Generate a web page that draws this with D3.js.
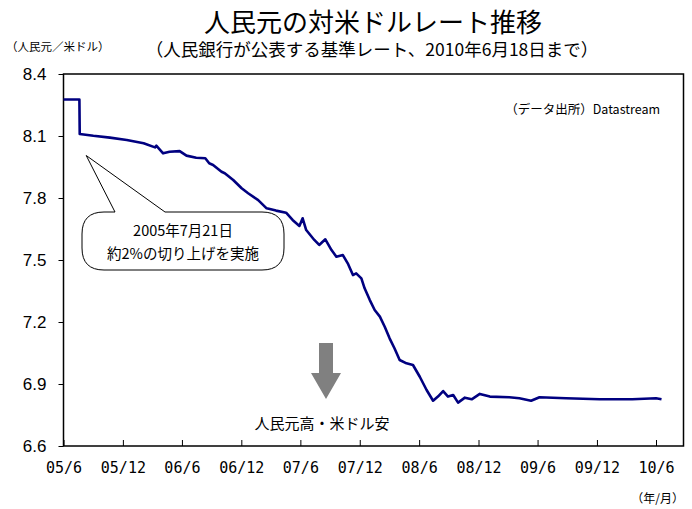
<!DOCTYPE html>
<html>
<head>
<meta charset="utf-8">
<script src="https://cdn.jsdelivr.net/npm/d3@7"></script>
<style>
  body { margin: 0; background: #fff; }
  text { font-family: "Noto Sans CJK JP", "Liberation Sans", sans-serif; fill: #000; }
</style>
</head>
<body>
<div id="chart"></div>
<script>
// CNY per USD, PBoC central parity
const dates = ["2005-06-01", "2005-07-20", "2005-07-21", "2005-09-01", "2005-10-22", "2005-12-13",
  "2006-02-03", "2006-03-10", "2006-03-14", "2006-04-04", "2006-04-24", "2006-05-25", "2006-06-15",
  "2006-07-15", "2006-08-12", "2006-08-24", "2006-09-05", "2006-10-01", "2006-10-11", "2006-11-06",
  "2006-12-02", "2006-12-22", "2007-01-22", "2007-02-17", "2007-03-18", "2007-04-18", "2007-05-08",
  "2007-05-29", "2007-06-08", "2007-06-19", "2007-07-14", "2007-07-29", "2007-08-17", "2007-09-05",
  "2007-09-20", "2007-10-10", "2007-10-25", "2007-11-10", "2007-11-20", "2007-12-06", "2007-12-16",
  "2008-01-01", "2008-01-16", "2008-02-01", "2008-02-16", "2008-03-02", "2008-03-17", "2008-04-02",
  "2008-04-23", "2008-05-13", "2008-06-03", "2008-06-24", "2008-07-14", "2008-07-29", "2008-08-14",
  "2008-08-29", "2008-09-14", "2008-09-29", "2008-10-20", "2008-11-10", "2008-12-05", "2009-01-05",
  "2009-03-06", "2009-04-06", "2009-05-12", "2009-06-07", "2009-08-28", "2009-12-09", "2010-03-20",
  "2010-06-01", "2010-06-18"];
const rates = [8.2765, 8.2765, 8.110, 8.101, 8.092, 8.081,
  8.065, 8.045, 8.053, 8.016, 8.024, 8.027, 8.005,
  7.995, 7.992, 7.968, 7.960, 7.927, 7.920, 7.887,
  7.847, 7.823, 7.790, 7.750, 7.739, 7.729, 7.694,
  7.665, 7.702, 7.645, 7.597, 7.573, 7.600, 7.548,
  7.516, 7.524, 7.484, 7.427, 7.435, 7.411, 7.363,
  7.306, 7.258, 7.226, 7.177, 7.121, 7.073, 7.016,
  7.000, 6.992, 6.935, 6.871, 6.819, 6.839, 6.866,
  6.839, 6.847, 6.810, 6.834, 6.826, 6.852, 6.839,
  6.836, 6.831, 6.819, 6.836, 6.831, 6.826, 6.826,
  6.831, 6.826];

const yTicks = [6.6, 6.9, 7.2, 7.5, 7.8, 8.1, 8.4];
const xTickDates = ["2005-06-01", "2005-12-01", "2006-06-01", "2006-12-01", "2007-06-01", "2007-12-01",
  "2008-06-01", "2008-12-01", "2009-06-01", "2009-12-01", "2010-06-01"];
const xTickLabels = ["05/6", "05/12", "06/6", "06/12", "07/6", "07/12", "08/6", "08/12", "09/6", "09/12", "10/6"];

const width = 692, height = 509;
const parse = d3.timeParse("%Y-%m-%d");
const data = dates.map((d, i) => ({ date: parse(d), v: rates[i] }));

const plotL = 63.5, plotR = 683.5, plotT = 74, plotB = 446;

const svg = d3.select("#chart").append("svg")
    .attr("width", width)
    .attr("height", height);

svg.append("rect").attr("width", width).attr("height", height).attr("fill", "#fff");

const x = d3.scaleTime()
    .domain([parse("2005-06-01"), parse("2010-06-01")])
    .range([plotL, 656]);

const y = d3.scaleLinear()
    .domain([6.6, 8.4])
    .range([plotB, plotT]);

// plot frame
svg.append("rect")
    .attr("x", plotL).attr("y", plotT)
    .attr("width", plotR - plotL).attr("height", plotB - plotT)
    .attr("fill", "none").attr("stroke", "#000").attr("stroke-width", 1.5);

// y axis
const yAxis = svg.append("g")
    .attr("transform", `translate(${plotL},0)`)
    .call(d3.axisLeft(y).tickValues(yTicks).tickSize(5).tickPadding(12).tickFormat(d3.format(".1f")));
yAxis.select(".domain").remove();
yAxis.selectAll("line").attr("stroke", "#000");
yAxis.selectAll("text")
    .style("font-family", "'Liberation Sans', sans-serif")
    .style("font-size", "17px");

// x axis, ticks pointing inward
const xAxis = svg.append("g")
    .attr("transform", `translate(0,${plotB})`)
    .call(d3.axisBottom(x)
        .tickValues(xTickDates.map(parse))
        .tickSize(-6)
        .tickPadding(16)
        .tickFormat((d, i) => xTickLabels[i]));
xAxis.select(".domain").remove();
xAxis.selectAll("line").attr("stroke", "#000");
xAxis.selectAll("text")
    .style("font-family", "'DejaVu Sans Mono', monospace")
    .style("font-size", "15px");

// the rate line
const line = d3.line()
    .x(d => x(d.date))
    .y(d => y(d.v));

svg.append("path")
    .datum(data)
    .attr("fill", "none")
    .attr("stroke", "#000080")
    .attr("stroke-width", 2.6)
    .attr("stroke-linejoin", "round")
    .attr("d", line);

// callout bubble for the July 2005 revaluation
const bx0 = 82, bx1 = 284, by0 = 212, by1 = 270, r = 22;
const tip = [x(parse("2005-08-10")), 155.5];
const bubble = d3.path();
bubble.moveTo(bx0 + r, by0);
bubble.lineTo(115, by0);
bubble.lineTo(tip[0], tip[1]);
bubble.lineTo(165, by0);
bubble.lineTo(bx1 - r, by0);
bubble.quadraticCurveTo(bx1, by0, bx1, by0 + r);
bubble.lineTo(bx1, by1 - r);
bubble.quadraticCurveTo(bx1, by1, bx1 - r, by1);
bubble.lineTo(bx0 + r, by1);
bubble.quadraticCurveTo(bx0, by1, bx0, by1 - r);
bubble.lineTo(bx0, by0 + r);
bubble.quadraticCurveTo(bx0, by0, bx0 + r, by0);
bubble.closePath();
svg.append("path")
    .attr("d", bubble.toString())
    .attr("fill", "#fff")
    .attr("stroke", "#000")
    .attr("stroke-width", 1);

svg.append("text").attr("x", 183).attr("y", 236)
    .attr("text-anchor", "middle").style("font-size", "14.5px")
    .text("2005年7月21日");
svg.append("text").attr("x", 183).attr("y", 259)
    .attr("text-anchor", "middle").style("font-size", "14.5px")
    .text("約2%の切り上げを実施");

// grey down arrow
const ax = 326;
svg.append("path")
    .attr("d", `M${ax - 7},343 L${ax + 7},343 L${ax + 7},373 L${ax + 15},373 L${ax},399 L${ax - 15},373 L${ax - 7},373 Z`)
    .attr("fill", "#808080");

svg.append("text").attr("x", 322).attr("y", 429)
    .attr("text-anchor", "middle").style("font-size", "15px")
    .text("人民元高・米ドル安");

// titles and notes
svg.append("text").attr("x", 373).attr("y", 32)
    .attr("text-anchor", "middle").style("font-size", "26px")
    .text("人民元の対米ドルレート推移");
svg.append("text").attr("x", 372).attr("y", 56)
    .attr("text-anchor", "middle").style("font-size", "17.5px")
    .text("（人民銀行が公表する基準レート、2010年6月18日まで）");
svg.append("text").attr("x", 6).attr("y", 51)
    .style("font-size", "11.5px")
    .text("（人民元／米ドル）");
svg.append("text").attr("x", 660).attr("y", 114)
    .attr("text-anchor", "end").style("font-size", "12.5px")
    .text("（データ出所）Datastream");
svg.append("text").attr("x", 684).attr("y", 503)
    .attr("text-anchor", "end").style("font-size", "12px")
    .text("（年/月）");
</script>
</body>
</html>
